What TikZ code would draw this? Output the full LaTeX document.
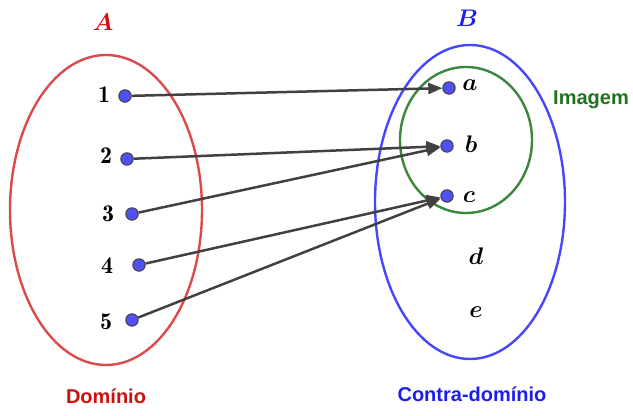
\documentclass[tikz,border=0pt]{standalone}
\usepackage{amsmath}
\usepackage{amssymb}
\usepackage{fontspec}
\setsansfont{Liberation Sans}
\usepackage{tikz}
\usetikzlibrary{arrows,arrows.meta,positioning,shapes,calc}
\definecolor{setred}{RGB}{220,75,75}
\definecolor{setblue}{RGB}{70,70,255}
\definecolor{setgreen}{RGB}{60,135,60}
\definecolor{txtred}{RGB}{205,15,15}
\definecolor{txtblue}{RGB}{30,30,235}
\definecolor{txtgreen}{RGB}{30,115,30}
\definecolor{dotblue}{RGB}{80,80,245}
\definecolor{arrgray}{RGB}{65,65,65}

\begin{document}
\begin{tikzpicture}[x=0.5pt,y=-0.5pt,line width=1.2pt,
  pt/.style={circle,fill=dotblue,draw=black!75,line width=.5pt,inner sep=0pt,minimum size=6.2pt},
  num/.style={font=\fontsize{12}{14}\selectfont},
  word/.style={font=\fontsize{10}{12}\selectfont\sffamily\bfseries},
  arr/.style={draw=arrgray,line width=1.25pt,-{Triangle[length=7pt,width=5.5pt]}}]

        \useasboundingbox (0,0) rectangle (633,416);

        \draw[setred] (106,210) ellipse [x radius=96,y radius=155];
        \draw[setblue] (470,202) ellipse [x radius=95,y radius=157];
        \draw[setgreen] (466,140) ellipse [x radius=66,y radius=73];

        \node[num,text=txtred] (setA) at (103,22) {$\boldsymbol{A}$};
        \node[num,text=txtblue] (setB) at (467,18) {$\boldsymbol{B}$};

        \node[pt] (p1) at (125,96) {};
        \node[pt] (p2) at (127,159) {};
        \node[pt] (p3) at (132,214) {};
        \node[pt] (p4) at (139,265) {};
        \node[pt] (p5) at (132,320) {};

        \node[num] (l1) at (104,95) {$\mathbf{1}$};
        \node[num] (l2) at (106,156) {$\mathbf{2}$};
        \node[num] (l3) at (108,214) {$\mathbf{3}$};
        \node[num] (l4) at (107,266) {$\mathbf{4}$};
        \node[num] (l5) at (106,322) {$\mathbf{5}$};

        \node[pt] (qa) at (449,88) {};
        \node[pt] (qb) at (447,146) {};
        \node[pt] (qc) at (447,196) {};

        \node[num] (la) at (470,85) {$\boldsymbol{a}$};
        \node[num] (lb) at (471,144) {$\boldsymbol{b}$};
        \node[num] (lc) at (469,197) {$\boldsymbol{c}$};
        \node[num] (ld) at (476,256) {$\boldsymbol{d}$};
        \node[num] (le) at (476,312) {$\boldsymbol{e}$};

        \draw[arr] (p1) -- (qa);
        \draw[arr] (p2) -- (qb);
        \draw[arr] (p3) -- (qb);
        \draw[arr] (p4) -- (qc);
        \draw[arr] (p5) -- (qc);

        \node[word,text=txtred] (dom) at (106,396) {Domínio};
        \node[word,text=txtblue] (cdom) at (472,394) {Contra-domínio};
        \node[word,text=txtgreen] (img) at (591,100) {Imagem};

      \end{tikzpicture}
\end{document}
